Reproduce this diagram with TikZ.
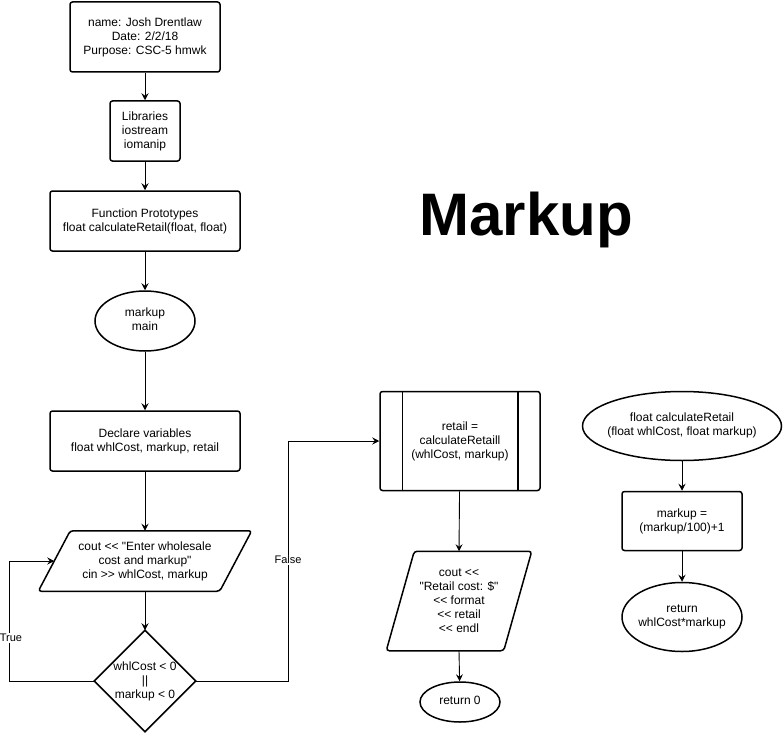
\documentclass[tikz,border=0pt]{standalone}
\usepackage{fontspec}
\newfontfamily\fs{Liberation Sans}
\usetikzlibrary{arrows.meta,shapes.geometric,calc}
\newcommand{\ctxt}[1]{\makebox[0pt]{\begin{tabular}{@{}c@{}}#1\end{tabular}}}
\begin{document}
\begin{tikzpicture}[x=1pt,y=-1pt,
  every node/.style={font=\fs\fontsize{12}{14}\selectfont},
  shp/.style={line width=1.5pt, align=center, inner sep=0pt},
  box/.style={shp, draw, rounded corners=2.5pt},
  oval/.style={shp, draw, ellipse},
  ghost/.style={shp, draw=none},
  outl/.style={line width=1.5pt, rounded corners=3pt},
  conn/.style={line width=0.9pt, -{Stealth[length=7pt,width=7pt,inset=2.5pt]}},
  lbl/.style={fill=white, inner sep=1pt, font=\fs\fontsize{11}{13}\selectfont}
]
\useasboundingbox (0,0) rectangle (784,733);

% left column
\node[box, minimum width=150pt, minimum height=70pt] (hdr) at (145,37) {name: Josh Drentlaw\\Date: 2/2/18\\Purpose: CSC-5 hmwk};
\node[box, minimum width=70pt, minimum height=60pt] (lib) at (145,131) {Libraries\\iostream\\iomanip};
\node[box, minimum width=190pt, minimum height=60pt] (proto) at (145,221) {Function Prototypes\\float calculateRetail(float, float)};
\node[oval, minimum width=100pt, minimum height=60pt] (mn) at (145,321) {\ctxt{markup\\main}};
\node[box, minimum width=190pt, minimum height=60pt] (decl) at (145,441) {Declare variables\\float whlCost, markup, retail};
\node[ghost, minimum width=180pt, minimum height=59pt] (inp) at (145,561) {cout << "Enter wholesale\\cost and markup"\\cin >> whlCost, markup};
\draw[outl] ($(inp.north west)+(16,0)$) -- ($(inp.north east)+(16,0)$) -- ($(inp.south east)+(-16,0)$) -- ($(inp.south west)+(-16,0)$) -- cycle;
\node[ghost, minimum width=100pt, minimum height=100pt] (dia) at (145,681) {whlCost < 0\\||\\markup < 0};
\draw[line width=1.5pt] (dia.north) -- (dia.east) -- (dia.south) -- (dia.west) -- cycle;

% middle column
\node[box, minimum width=160pt, minimum height=99pt] (rt) at (460,441) {retail =\\calculateRetaill\\(whlCost, markup)};
\draw[line width=1.5pt] ($(rt.north west)+(23,0)$) -- ($(rt.south west)+(23,0)$);
\draw[line width=1.5pt] ($(rt.north east)+(-23,0)$) -- ($(rt.south east)+(-23,0)$);
\node[ghost, minimum width=116pt, minimum height=98pt] (outp) at (459,601) {cout <<\\"Retail cost: \$"\\<< format\\<< retail\\<< endl};
\draw[outl] ($(outp.north west)+(14,0)$) -- ($(outp.north east)+(14,0)$) -- ($(outp.south east)+(-14,0)$) -- ($(outp.south west)+(-14,0)$) -- cycle;
\node[oval, minimum width=80pt, minimum height=40pt] (r0) at (460,702) {\ctxt{return 0}};

% right column
\node[oval, minimum width=199pt, minimum height=69pt] (calc) at (682,426) {\ctxt{float calculateRetail\\(float whlCost, float markup)}};
\node[box, minimum width=120pt, minimum height=59pt] (mk) at (682,521) {markup =\\(markup/100)+1};
\node[oval, minimum width=120pt, minimum height=69pt] (ret) at (682,617) {\ctxt{return\\whlCost*markup}};

% title
\node[font=\fs\bfseries\fontsize{60}{72}\selectfont, anchor=base, inner sep=0pt] (title) at (526,235) {Markup};

% connectors
\draw[conn] (hdr) -- (lib);
\draw[conn] (lib) -- (proto);
\draw[conn] (proto) -- (mn);
\draw[conn] (mn) -- (decl);
\draw[conn] (decl) -- (inp.north);
\draw[conn] (inp.south) -- (dia.north);
\draw[conn] (dia.west) -- ++(-85,0) |- (inp.west);
\draw[conn] (dia.east) -- ++(93,0) |- (rt.west);
\draw[conn] (rt) -- (outp.north);
\draw[conn] (outp.south) -- (r0);
\draw[conn] (calc) -- (mk);
\draw[conn] (mk) -- (ret);

\node[lbl] (tl) at (11,638) {True};
\node[lbl] (fl) at (288,560) {False};
\end{tikzpicture}
\end{document}
